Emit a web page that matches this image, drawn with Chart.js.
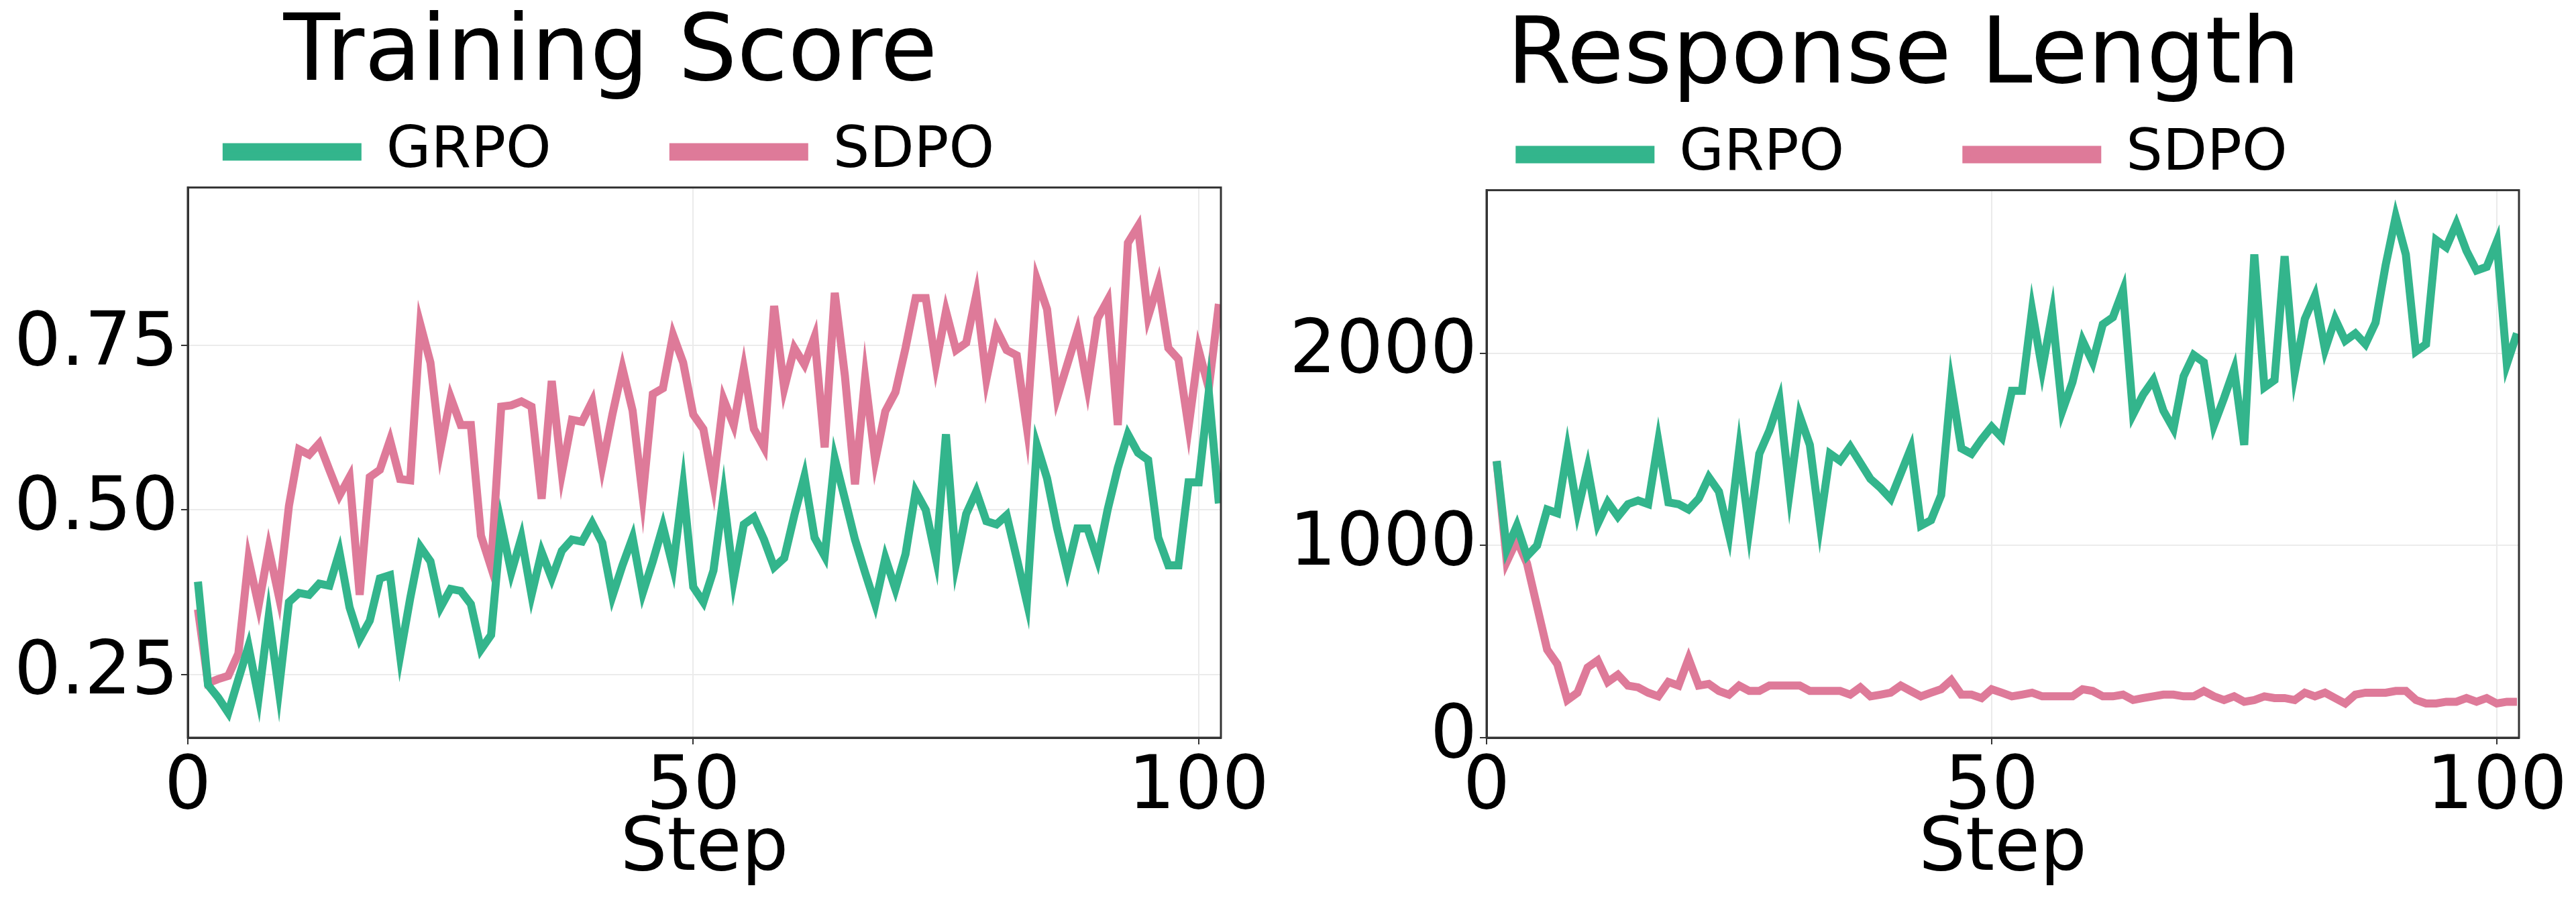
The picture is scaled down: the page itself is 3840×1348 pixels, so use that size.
<!DOCTYPE html>
<html>
<head>
<meta charset="utf-8">
<script src="https://cdn.jsdelivr.net/npm/chart.js@4.4.1/dist/chart.umd.min.js"></script>
<style>
  html, body { margin: 0; padding: 0; background: #fff; }
  #wrap { position: relative; width: 3840px; height: 1348px; }
  .panel { position: absolute; top: 0; width: 1920px; height: 1348px; }
</style>
</head>
<body>
<div id="wrap">
  <div class="panel" style="left:0"><canvas id="scoreChart"></canvas></div>
  <div class="panel" style="left:1920px"><canvas id="lengthChart"></canvas></div>
</div>
<script>
// ===== data =====
const steps = Array.from({ length: 102 }, (_, i) => i + 1);

const scoreGRPO = [
  0.391,0.234,0.215,0.192,0.243,0.293,0.215,0.338,0.226,0.360,
  0.374,0.371,0.388,0.385,0.436,0.352,0.304,0.332,0.396,0.401,
  0.279,0.366,0.444,0.422,0.352,0.380,0.377,0.357,0.288,0.310,
  0.478,0.405,0.458,0.371,0.436,0.396,0.438,0.455,0.452,0.480,
  0.450,0.369,0.416,0.458,0.374,0.422,0.475,0.413,0.536,0.383,
  0.360,0.408,0.522,0.394,0.478,0.489,0.455,0.413,0.427,0.492,
  0.551,0.458,0.430,0.578,0.517,0.455,0.405,0.357,0.427,0.380,
  0.433,0.528,0.500,0.427,0.615,0.419,0.494,0.528,0.483,0.478,
  0.492,0.427,0.360,0.598,0.548,0.472,0.408,0.472,0.472,0.425,
  0.501,0.564,0.615,0.587,0.576,0.458,0.416,0.416,0.542,0.542,
  0.679,0.510
];
const scoreSDPO = [
  0.349,0.237,0.243,0.248,0.282,0.425,0.355,0.441,0.369,0.506,
  0.592,0.584,0.601,0.561,0.522,0.550,0.371,0.550,0.561,0.606,
  0.547,0.545,0.782,0.724,0.592,0.671,0.629,0.629,0.461,0.413,
  0.657,0.659,0.665,0.657,0.517,0.696,0.556,0.637,0.634,0.665,
  0.567,0.645,0.715,0.651,0.520,0.676,0.685,0.766,0.724,0.645,
  0.623,0.539,0.668,0.629,0.715,0.623,0.595,0.810,0.685,0.746,
  0.721,0.763,0.595,0.830,0.704,0.539,0.701,0.575,0.650,0.679,
  0.746,0.822,0.822,0.721,0.802,0.743,0.754,0.827,0.699,0.774,
  0.743,0.735,0.626,0.850,0.805,0.671,0.721,0.771,0.687,0.791,
  0.819,0.629,0.906,0.931,0.794,0.844,0.746,0.729,0.626,0.743,
  0.685,0.813
];
const lengthGRPO = [
  1439,980,1103,944,1000,1187,1168,1495,1178,1402,
  1112,1224,1150,1215,1234,1215,1542,1224,1215,1187,
  1243,1355,1280,1056,1495,1084,1477,1598,1757,1280,
  1673,1523,1112,1477,1440,1514,1430,1346,1299,1243,
  1374,1505,1103,1131,1262,1832,1505,1477,1551,1617,
  1561,1804,1804,2224,1916,2206,1701,1850,2065,1953,
  2150,2187,2327,1682,1785,1860,1701,1607,1880,1991,
  1953,1626,1766,1916,1523,2514,1822,1860,2505,1897,
  2178,2299,2019,2178,2065,2103,2047,2159,2458,2710,
  2514,2009,2047,2589,2551,2673,2533,2430,2449,2580,
  1944,2103
];
const lengthSDPO = [
  1439,916,1028,907,682,458,383,196,234,365,
  402,290,327,271,262,234,215,290,271,411,
  271,280,243,224,271,243,243,271,271,271,
  271,243,243,243,243,224,262,215,224,234,
  271,243,215,234,252,299,224,224,206,252,
  234,215,224,234,215,215,215,215,252,243,
  215,215,224,196,206,215,224,224,215,215,
  243,215,196,215,187,196,215,206,206,196,
  234,215,234,206,178,224,234,234,234,243,
  243,196,178,178,187,187,206,187,206,178,
  187,187
];

const xTicks = [0, 50, 100];
const scoreTicks = [0.25, 0.5, 0.75];
const lengthTicks = [0, 1000, 2000];

// ===== styling =====
const GREEN = '#33b58c';
const PINK = '#de7a99';
const FONT = 'DejaVu Sans';

// frame on all four sides like matplotlib
const framePlugin = {
  id: 'frame',
  afterDatasetsDraw(chart) {
    const a = chart.chartArea, ctx = chart.ctx;
    ctx.save();
    ctx.strokeStyle = '#333';
    ctx.lineWidth = 3;
    ctx.strokeRect(a.left, a.top, a.right - a.left, a.bottom - a.top);
    ctx.restore();
  }
};

function pts(arr) {
  return arr.map((v, i) => ({ x: steps[i], y: v }));
}

function makeChart(id, title, grpo, sdpo, yMin, yMax, yTicks, yFmt, yWidth, rightPad, topPad) {
  const ctx = document.getElementById(id).getContext('2d');
  return new Chart(ctx, {
    type: 'line',
    data: {
      datasets: [
        { label: 'GRPO', data: pts(grpo), borderColor: GREEN, backgroundColor: GREEN,
          borderWidth: 12, pointRadius: 0, tension: 0 },
        { label: 'SDPO', data: pts(sdpo), borderColor: PINK, backgroundColor: PINK,
          borderWidth: 12, pointRadius: 0, tension: 0 }
      ]
    },
    options: {
      responsive: true,
      maintainAspectRatio: false,
      animation: false,
      devicePixelRatio: 1,
      layout: { padding: { left: 0, right: rightPad, top: topPad, bottom: 10 } },
      plugins: {
        title: {
          display: true, text: title, color: '#000',
          font: { family: FONT, size: 138, weight: 'normal' },
          padding: { top: 0, bottom: 0 }
        },
        legend: {
          display: true,
          labels: {
            color: '#000',
            font: { family: FONT, size: 86 },
            boxWidth: 195, boxHeight: 14, padding: 18,
            generateLabels: chart => Chart.defaults.plugins.legend.labels.generateLabels(chart)
              .map((l, i) => Object.assign(l, { text: i === 0 ? l.text + '      ' : l.text }))
          }
        },
        tooltip: { enabled: false }
      },
      scales: {
        x: {
          type: 'linear', min: 0, max: 102.2,
          afterBuildTicks: s => { s.ticks = xTicks.map(v => ({ value: v })); },
          afterFit: s => { s.height = 238; },
          ticks: { color: '#000', font: { family: FONT, size: 110 }, padding: 0, maxRotation: 0 },
          grid: { color: '#ebebeb', lineWidth: 2, tickColor: '#333', tickLength: 10 },
          border: { color: '#333', width: 3 },
          title: { display: true, text: 'Step', color: '#000',
                   font: { family: FONT, size: 110 }, padding: { top: 0 } }
        },
        y: {
          min: yMin, max: yMax,
          afterBuildTicks: s => { s.ticks = yTicks.map(v => ({ value: v })); },
          afterFit: s => { s.width = yWidth; },
          ticks: { color: '#000', font: { family: FONT, size: 110 }, padding: 4,
                   callback: yFmt },
          grid: { color: '#ebebeb', lineWidth: 2, tickColor: '#333', tickLength: 10 },
          border: { color: '#333', width: 3 }
        }
      }
    },
    plugins: [framePlugin]
  });
}

makeChart('scoreChart', 'Training Score', scoreGRPO, scoreSDPO,
  0.154, 0.99, scoreTicks, v => v.toFixed(2), 280, 100, 0);
makeChart('lengthChart', 'Response Length', lengthGRPO, lengthSDPO,
  0, 2848, lengthTicks, v => String(v), 296, 85, 4);
</script>
</body>
</html>
